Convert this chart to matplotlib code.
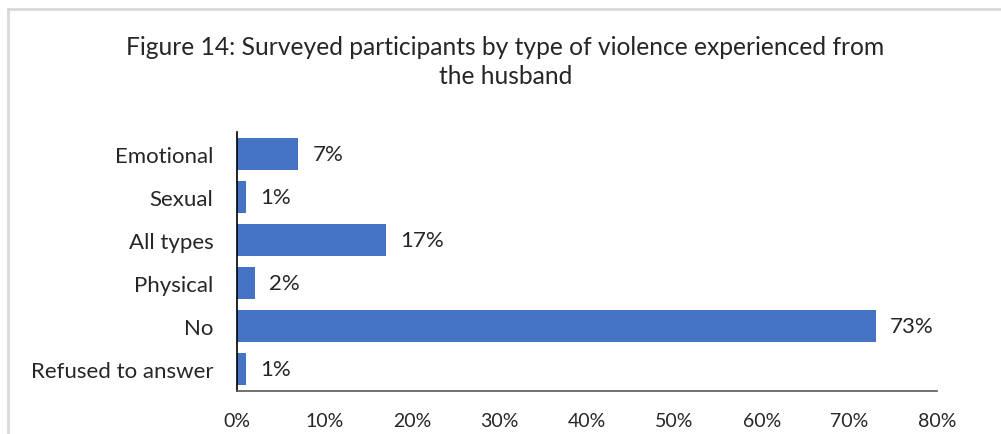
import matplotlib.pyplot as plt
from matplotlib.lines import Line2D

categories = ["Emotional", "Sexual", "All types", "Physical", "No", "Refused to answer"]
values = [7, 1, 17, 2, 73, 1]
xticks = [0, 10, 20, 30, 40, 50, 60, 70, 80]

plt.rcParams['font.family'] = ['Lato', 'DejaVu Sans']

fig = plt.figure(figsize=(10.01, 4.35), dpi=100)
ax = fig.add_axes([0.2368, 0.099, 0.6993, 0.595])

ypos = list(range(len(categories)))
ax.barh(ypos, values, height=0.74, color='#4472C4')
ax.set_ylim(len(categories) - 0.5, -0.5)
ax.set_xlim(0, 80)

for y, v in zip(ypos, values):
    ax.text(v + 1.6, y, f"{v}%", va='center', ha='left', fontsize=16, color='#262626')

ax.set_yticks(ypos)
ax.set_yticklabels(categories, fontsize=16, color='#262626')
ax.set_xticks(xticks)
ax.set_xticklabels([f"{t}%" for t in xticks], fontsize=14, color='#262626')
ax.tick_params(axis='both', length=0)
ax.tick_params(axis='y', pad=17)
ax.tick_params(axis='x', pad=15)

for s in ['top', 'right']:
    ax.spines[s].set_visible(False)
ax.spines['left'].set_color('black')
ax.spines['left'].set_linewidth(1.2)
ax.spines['bottom'].set_color('#595959')
ax.spines['bottom'].set_linewidth(1.2)

fig.text(0.505, 0.858, "Figure 14: Surveyed participants by type of violence experienced from\nthe husband",
         ha='center', va='center', fontsize=17.7, color='#262626', linespacing=1.3)

# chart frame (left and top edges)
fig.add_artist(Line2D([0.008, 0.008], [0, 0.977], transform=fig.transFigure, color='#d9d9d9', lw=2))
fig.add_artist(Line2D([0.008, 1.0], [0.977, 0.977], transform=fig.transFigure, color='#d9d9d9', lw=2))

fig.savefig('out.png', dpi=100)
